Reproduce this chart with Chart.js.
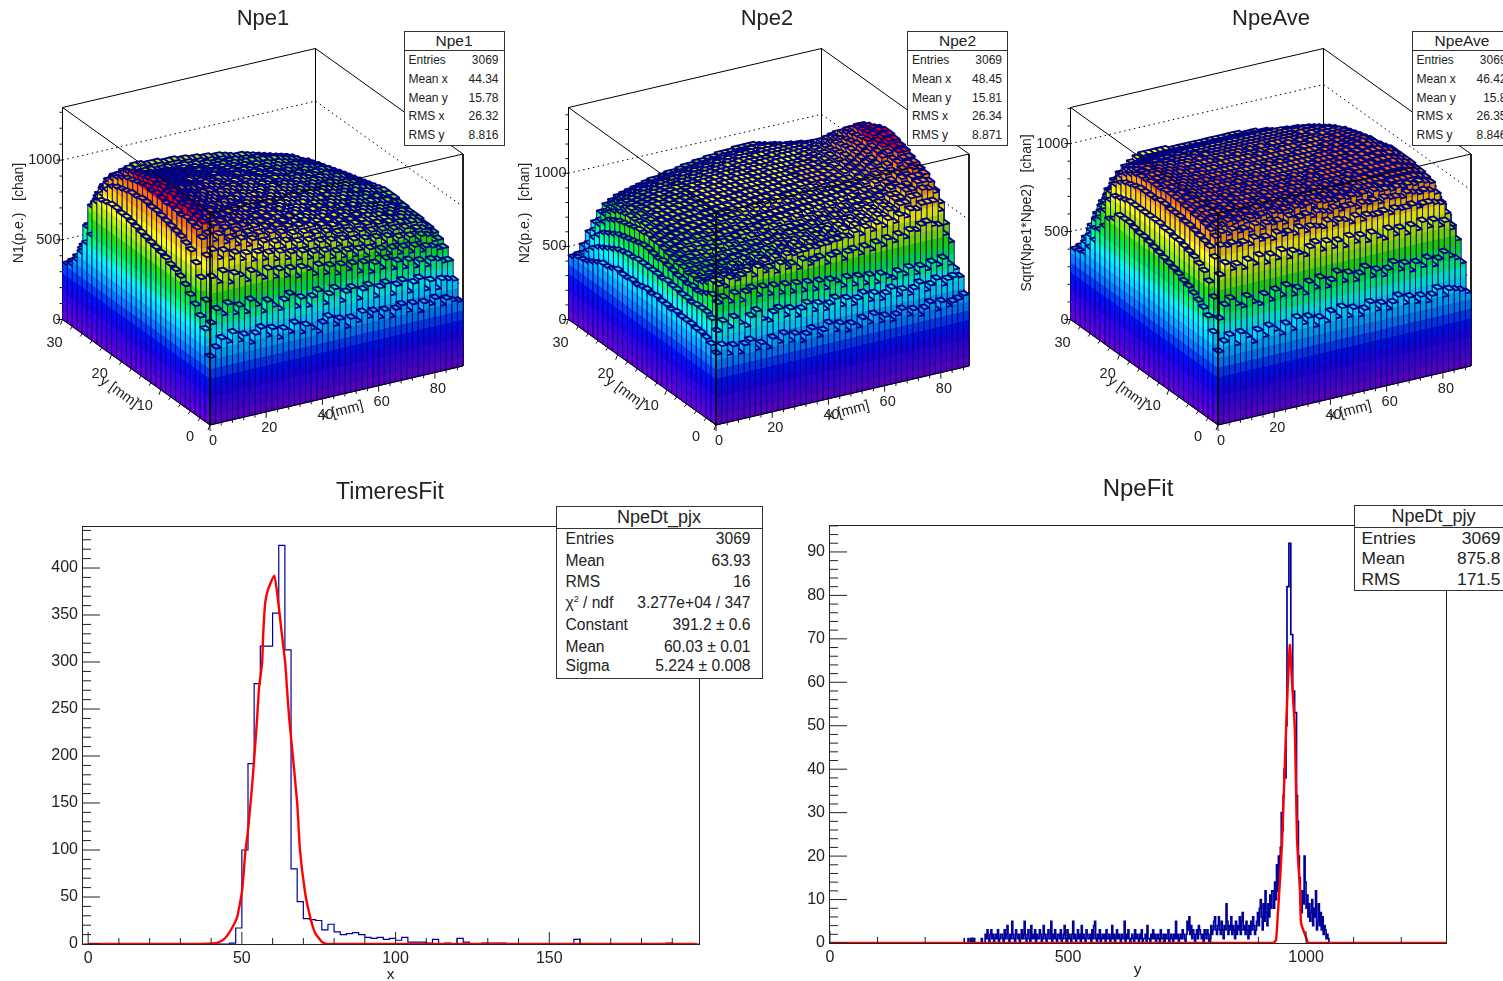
<!DOCTYPE html>
<html>
<head>
<meta charset="utf-8">
<title>Npe maps and fits</title>
<script src="https://cdn.jsdelivr.net/npm/chart.js@4/dist/chart.umd.js"></script>
<style>
  html, body { margin: 0; padding: 0; background: #fff; overflow: hidden; }
  #page { position: relative; width: 1503px; height: 981px; overflow: hidden; background: #fff; filter: blur(0.45px); font-family: "Liberation Sans", sans-serif; color: #222; }
  canvas { position: absolute; left: 0; top: 0; }
  .title { position: absolute; transform: translate(-50%, -50%); white-space: nowrap; }
  .stats { position: absolute; background: #fff; border: 1.5px solid #333; box-sizing: border-box; z-index: 5; }
  .stats .head { position: absolute; left: 0; right: 0; top: 0; border-bottom: 1.5px solid #333; text-align: center; }
  .stats .row { position: absolute; white-space: nowrap; transform: translateY(-50%); }
</style>
</head>
<body>
<div id="page"></div>
<script>
// lego heights, 10 chan units. rows go from y=0 (front) to y=30 (back), 45 bins of 2 mm in x, 30 bins of 1 mm in y
const H1 = [
[42,47,52,49,54,48,51,45,50,53,47,51,44,49,46,51,44,48,45,42,47,50,44,47,41,46,43,48,44,47,42,46,41,45,47,42,46,40,45,43,46,41,44,42,41],
[57,60,68,64,70,63,67,62,69,65,60,66,62,59,64,67,58,63,57,62,65,56,61,64,55,60,62,54,59,61,53,58,60,52,57,59,51,56,58,50,55,49,54,53,52],
[63,72,86,82,88,80,85,83,79,84,81,78,83,77,81,76,80,74,79,77,73,78,72,76,70,75,71,74,68,73,66,71,67,72,65,69,64,68,63,66,62,65,64,62,62],
[68,84,97,100,94,98,92,95,90,93,88,92,87,90,85,89,84,87,82,86,81,84,80,83,78,81,77,80,76,79,74,78,73,76,72,75,71,74,70,73,69,71,70,68,68],
[72,91,106,108,103,106,100,102,97,100,95,98,92,95,90,93,89,92,87,90,86,89,84,87,83,86,82,85,80,83,79,82,78,81,77,80,75,78,74,77,73,76,75,71,71],
[76,97,110,113,109,110,105,106,102,103,99,100,97,98,95,97,93,95,91,93,90,92,89,90,87,89,85,87,84,86,83,85,81,83,80,82,79,81,78,80,77,78,77,74,73],
[79,99,111,114,112,112,108,108,105,105,102,102,100,100,98,98,96,97,94,95,93,94,92,92,90,91,88,89,87,88,85,87,84,85,83,84,82,83,81,81,80,80,79,76,74],
[81,101,112,115,113,112,110,109,106,105,103,103,101,100,99,99,97,97,95,96,94,94,92,93,91,91,89,90,88,88,86,87,85,85,84,84,83,83,82,81,81,80,79,76,74],
[82,102,111,116,114,113,110,110,107,106,104,103,102,101,99,100,97,98,96,96,94,95,93,93,92,91,90,90,88,89,87,87,85,86,84,84,83,83,81,82,80,80,79,76,75],
[84,103,112,115,115,112,111,109,108,106,104,104,102,101,100,99,98,98,96,96,95,94,93,93,91,91,90,89,89,88,87,87,86,85,84,84,83,82,82,81,81,79,79,76,75],
[85,104,113,116,114,113,111,110,107,107,105,103,102,102,100,100,98,97,97,96,94,95,93,92,92,91,89,90,88,88,87,86,85,85,84,83,83,82,81,81,80,80,78,76,75],
[86,105,112,117,115,114,112,110,108,106,105,104,103,101,100,100,99,98,96,97,95,94,94,92,91,91,90,89,88,88,86,87,85,85,83,84,82,82,81,80,80,79,78,76,76],
[87,106,113,116,116,113,112,111,108,107,105,104,102,102,101,99,98,98,97,96,95,95,93,93,92,91,90,90,88,88,87,86,86,85,84,83,83,82,81,81,80,79,79,77,76],
[88,106,114,117,115,114,111,110,109,107,106,104,103,101,100,100,99,97,97,96,95,94,94,93,91,91,90,89,89,88,87,87,85,85,84,84,82,82,81,81,79,80,78,77,77],
[89,107,113,116,116,114,112,111,108,107,105,105,103,102,101,100,98,98,97,96,96,95,93,93,92,91,90,90,88,88,87,86,85,85,84,83,83,82,81,80,80,79,78,77,77],
[90,107,114,117,116,113,112,110,109,107,106,104,102,102,100,100,99,98,96,96,95,94,94,92,92,90,90,89,88,88,86,86,85,85,83,83,82,82,80,81,79,79,78,77,77],
[91,106,113,116,115,114,111,110,108,106,105,104,103,101,100,99,98,98,97,96,95,94,93,93,91,91,90,89,88,87,87,86,85,84,84,83,82,81,81,80,80,79,78,76,76],
[92,106,112,115,114,112,111,109,107,106,104,103,102,101,100,99,98,97,96,96,94,94,93,92,91,90,90,88,88,87,86,86,84,84,83,83,82,81,80,80,79,78,77,76,75],
[92,105,111,114,113,112,109,109,106,105,104,102,101,100,99,99,97,97,95,95,94,93,92,92,90,90,89,88,87,87,86,85,84,83,83,82,81,81,80,79,79,78,76,75,74],
[93,104,110,113,112,110,109,107,106,104,103,102,100,100,98,98,97,96,95,94,93,93,91,91,90,89,88,88,86,86,85,84,84,83,82,82,81,80,79,79,78,77,76,74,73],
[93,103,108,111,110,108,107,106,104,103,102,100,100,98,98,97,96,95,94,94,93,92,91,90,90,89,88,87,86,86,85,84,83,83,82,81,80,80,79,78,78,77,75,73,72],
[92,101,106,108,107,106,105,104,102,101,100,99,98,97,96,96,95,94,93,92,92,91,90,89,88,88,87,86,85,85,84,83,82,82,81,80,80,79,78,78,77,76,75,72,71],
[91,97,103,105,105,104,103,102,101,99,98,98,96,96,95,94,94,93,92,91,91,90,89,88,88,87,86,85,85,84,83,83,82,81,80,80,79,78,78,77,76,75,74,72,70],
[88,92,98,101,102,101,100,99,98,97,96,95,95,94,93,92,92,91,90,90,89,88,88,87,86,86,85,84,84,83,82,82,81,80,80,79,78,78,77,76,76,75,73,71,69],
[65,86,92,97,99,98,98,97,96,95,94,94,93,92,92,91,90,90,89,88,88,87,87,86,85,85,84,84,83,82,82,81,80,80,79,79,78,77,77,76,75,74,72,70,68],
[58,80,85,90,94,95,95,94,94,93,92,92,91,90,90,89,89,88,88,87,87,86,85,85,84,84,83,83,82,82,81,80,80,79,79,78,77,77,76,75,74,73,71,69,66],
[50,65,72,82,88,90,91,91,91,90,90,89,89,88,88,88,87,87,86,86,85,85,84,84,83,83,82,82,81,81,80,80,79,79,78,78,77,76,75,74,73,72,70,67,64],
[43,49,54,74,81,85,87,88,88,88,88,87,87,87,86,86,86,85,85,85,84,84,83,83,82,82,82,81,81,80,80,80,79,79,78,78,77,76,75,74,72,71,68,65,62],
[38,42,46,60,70,78,81,84,85,85,86,86,86,86,86,85,85,85,84,84,84,83,83,82,82,81,81,80,80,80,79,79,78,78,77,76,75,75,74,72,71,69,66,63,60],
[36,37,38,45,50,70,75,79,82,84,86,87,88,88,87,87,87,86,86,86,85,85,84,84,83,83,82,82,81,80,79,79,78,77,76,75,74,73,72,71,70,67,64,61,58]
];
const H2 = [
[48,53,46,51,45,50,52,45,48,44,50,46,51,45,49,43,47,50,44,47,51,45,49,43,47,44,49,45,50,44,47,43,46,49,44,47,42,46,49,43,48,44,46,47,49],
[52,60,66,61,67,62,59,65,68,61,59,64,66,60,64,58,62,65,59,63,58,61,64,58,62,57,60,63,57,61,56,59,62,56,59,55,58,61,55,58,61,56,59,60,59],
[54,66,76,79,75,80,74,79,81,75,80,74,79,73,78,72,77,71,76,70,75,69,74,72,68,73,67,72,66,71,65,70,67,65,69,66,70,65,69,66,70,67,71,66,62],
[55,68,79,85,83,88,86,88,90,86,91,87,89,85,90,86,88,84,89,85,87,88,83,87,88,83,87,88,84,88,85,89,86,90,87,91,88,92,91,94,95,92,91,84,78],
[55,68,77,85,85,87,86,87,87,89,88,89,91,89,92,89,92,91,92,92,93,92,93,93,94,94,95,94,97,94,98,95,99,96,100,97,101,99,103,102,105,105,105,98,88],
[56,68,75,81,81,84,82,85,83,86,84,87,86,88,87,89,88,91,89,92,90,93,92,94,93,95,94,97,95,98,96,99,98,101,100,103,102,105,105,108,108,112,111,108,100],
[56,67,74,79,80,82,80,83,81,84,83,86,84,87,86,89,87,90,89,92,90,93,92,94,93,96,94,97,95,98,97,99,98,101,100,103,102,106,106,110,110,114,114,113,106],
[56,68,75,78,79,81,80,82,81,84,83,86,84,87,86,89,88,91,90,91,91,93,92,94,94,95,95,97,96,97,97,99,98,101,100,103,102,106,106,110,111,115,115,116,109],
[57,68,74,79,78,81,81,81,83,83,85,85,86,86,88,88,90,90,92,91,93,93,94,94,96,95,97,96,98,97,99,98,100,100,102,102,104,105,108,109,113,114,118,117,112],
[56,69,75,78,80,80,82,82,84,84,86,86,87,87,89,89,91,91,93,92,94,94,95,95,97,96,98,97,99,98,100,99,101,101,103,103,105,106,109,110,114,116,119,119,114],
[57,69,75,80,80,82,82,84,83,86,85,88,87,89,88,91,90,92,91,94,93,96,94,97,95,98,96,99,97,100,98,101,99,102,101,104,104,108,108,112,113,118,120,120,115],
[57,70,76,80,82,83,84,84,86,86,88,88,89,90,91,91,92,93,94,94,95,96,96,97,97,98,98,99,99,100,100,101,101,102,103,104,106,108,110,112,115,118,122,122,117],
[58,69,77,81,83,85,85,87,87,89,89,90,91,91,92,93,94,94,95,96,96,97,97,98,98,99,99,99,100,100,101,101,102,103,104,105,107,109,112,114,118,120,123,123,119],
[57,70,78,82,84,85,87,87,89,89,91,90,92,92,94,93,95,94,96,95,97,96,98,97,99,98,100,99,101,100,102,101,103,103,105,105,108,110,113,115,119,122,125,125,120],
[58,70,77,83,85,86,88,88,90,90,91,92,92,94,94,95,95,97,96,98,97,99,98,100,99,100,100,101,100,102,101,103,102,104,105,107,109,111,114,117,120,123,126,126,121],
[57,70,78,84,85,87,88,89,90,91,92,92,93,94,95,95,96,97,97,98,98,99,99,100,100,101,101,101,102,102,103,103,103,104,105,107,110,112,115,118,122,125,127,126,120],
[56,70,79,84,86,88,89,90,91,92,92,93,94,94,95,96,96,97,98,98,99,99,100,100,101,101,102,102,102,103,103,103,103,104,105,107,109,112,115,118,121,124,126,125,119],
[57,70,79,85,87,88,90,90,92,92,93,93,95,95,96,96,97,97,98,98,99,99,100,100,101,101,102,102,102,102,103,103,103,104,105,106,108,111,114,117,120,123,125,123,116],
[56,69,78,84,87,89,90,91,92,93,93,94,95,95,96,96,97,98,98,99,99,100,100,100,101,101,102,102,102,103,103,103,103,104,104,106,108,110,113,116,119,122,123,120,112],
[56,69,77,84,87,89,91,91,92,93,94,94,95,96,96,97,97,98,98,99,99,100,100,100,101,101,102,102,102,102,102,103,103,103,104,105,107,109,112,114,117,119,120,116,107],
[57,68,76,83,86,88,90,91,92,93,93,94,95,95,96,97,97,98,98,99,99,100,100,100,101,101,101,102,102,102,102,102,102,103,103,104,106,108,110,112,115,116,116,110,100],
[55,67,75,82,85,88,90,91,92,92,93,94,94,95,96,96,97,97,98,98,99,99,100,100,100,101,101,101,101,102,102,102,102,102,103,103,105,106,108,110,112,112,110,104,94],
[54,65,74,81,85,87,89,90,91,92,92,93,94,94,95,96,96,97,97,98,98,99,99,99,100,100,100,101,101,101,101,102,102,102,102,102,103,104,106,107,108,107,104,98,88],
[54,63,72,80,84,87,88,89,90,91,92,92,93,94,94,95,95,96,96,97,97,98,98,98,99,99,100,100,100,100,101,101,101,101,101,101,102,102,103,103,103,101,97,91,82],
[52,61,70,78,83,85,87,88,89,90,91,91,92,92,93,94,94,95,95,96,96,97,97,98,98,99,99,99,100,100,100,100,100,100,100,100,100,100,100,99,98,95,90,84,74],
[50,59,68,76,81,84,86,87,88,89,89,90,91,91,92,92,93,93,94,94,95,95,96,96,97,97,98,98,98,98,99,99,99,99,99,98,98,98,97,95,93,90,84,77,68],
[48,56,64,72,78,81,83,85,86,87,88,88,89,90,90,91,91,92,92,93,93,94,94,95,95,96,96,97,97,97,97,98,98,97,97,96,96,95,94,92,89,85,79,72,62],
[47,52,60,68,74,78,81,83,84,85,86,86,87,87,88,89,89,90,90,91,91,92,92,93,93,94,94,95,95,95,96,96,96,95,95,94,93,92,90,88,85,80,74,66,57],
[46,48,54,62,68,73,77,79,81,82,83,84,84,85,85,86,87,87,88,88,89,89,90,90,91,91,92,92,92,93,93,93,93,93,92,91,90,89,86,84,80,75,68,61,52],
[44,45,50,58,64,70,74,76,78,79,80,81,82,83,84,84,85,86,86,87,88,88,89,89,90,90,91,91,91,92,92,92,92,91,90,89,88,86,83,80,76,70,62,55,48]
];
const H3 = [
[41,46,49,43,49,46,42,48,44,49,46,43,48,44,50,46,49,43,47,44,49,45,50,44,48,43,46,49,44,47,43,46,49,44,47,43,46,42,45,48,43,46,45,44,42],
[50,57,64,67,63,61,66,62,60,65,61,66,62,67,61,64,60,66,62,67,61,64,68,62,66,61,64,67,61,64,60,63,66,61,64,59,63,60,64,59,62,65,62,60,57],
[57,67,79,85,81,83,80,84,81,85,80,84,81,85,80,83,81,79,83,85,80,84,80,83,79,84,80,83,79,83,80,78,83,79,82,78,82,79,83,79,82,78,80,75,68],
[60,74,87,93,92,93,91,92,90,93,91,92,90,93,91,92,90,93,90,92,91,90,93,90,92,91,89,92,89,91,90,90,91,89,91,90,90,91,89,90,90,89,88,82,74],
[62,78,91,96,98,96,98,96,97,95,98,95,97,96,97,95,98,95,96,97,95,97,96,95,97,95,96,96,94,96,95,96,94,96,95,95,94,96,95,94,95,94,92,86,78],
[64,80,92,98,100,99,101,99,100,98,100,99,100,98,100,99,100,98,100,99,100,98,100,99,99,98,99,98,99,98,99,97,99,98,98,97,98,97,98,97,98,97,96,89,82],
[66,82,93,99,101,101,102,100,101,100,101,100,102,100,101,99,101,100,101,99,101,100,100,99,100,99,100,99,100,98,100,99,99,98,99,98,99,99,99,99,99,98,97,91,84],
[67,83,94,100,102,102,102,101,102,100,102,101,101,100,102,100,101,100,101,100,101,100,100,100,100,99,100,99,99,99,100,99,99,99,99,99,100,100,100,100,100,99,98,92,86],
[69,84,95,100,102,102,103,101,102,101,102,101,101,100,101,100,101,100,100,100,101,100,100,99,100,99,100,99,100,98,100,99,99,99,100,100,100,101,101,101,100,99,98,93,87],
[70,85,95,101,103,103,102,102,102,101,102,101,101,101,101,100,101,100,100,100,100,100,100,99,100,99,99,99,99,99,99,100,99,100,100,101,101,101,101,102,101,100,99,94,88],
[71,85,96,101,103,103,103,102,102,101,102,100,101,100,101,100,100,100,100,99,100,99,100,99,99,99,99,98,99,99,99,99,99,100,100,101,101,102,102,102,101,100,99,94,88],
[72,86,96,102,103,104,103,102,102,101,101,101,101,100,100,100,100,99,100,99,99,99,99,99,99,98,99,98,99,99,99,99,100,100,101,101,102,102,103,102,102,101,99,94,88],
[73,86,96,102,104,103,103,102,102,101,101,100,100,100,100,99,100,99,99,99,99,99,99,98,99,98,98,99,98,99,99,99,100,100,101,101,102,103,103,103,102,101,99,94,88],
[74,87,97,102,103,104,103,102,101,101,101,100,100,100,99,100,99,99,99,99,98,99,98,98,98,98,98,98,98,99,99,99,99,100,100,101,102,103,104,103,102,100,99,94,88],
[75,87,97,102,103,103,103,102,101,101,100,100,100,99,99,99,99,99,98,99,98,98,98,98,98,98,98,98,98,98,99,99,99,100,100,101,102,103,104,103,102,100,98,93,88],
[76,87,96,101,103,103,102,102,101,100,100,100,99,99,99,99,98,99,98,98,98,98,98,98,98,98,98,98,98,98,98,99,99,99,100,100,101,102,103,103,101,99,97,93,87],
[76,87,96,101,102,103,102,101,101,100,100,99,99,99,99,98,98,98,98,98,98,98,97,98,97,98,97,98,98,98,98,98,98,99,99,100,100,101,102,102,100,99,96,92,86],
[77,87,96,101,102,102,102,101,100,100,99,99,99,98,98,98,98,98,98,97,98,97,97,97,97,97,97,97,97,98,98,98,98,98,99,99,100,100,101,101,100,98,96,91,85],
[78,87,96,100,102,102,101,101,100,100,99,99,98,98,98,98,97,97,97,97,97,97,97,97,97,97,97,97,97,97,97,98,98,98,98,99,99,100,100,100,99,97,95,90,84],
[78,87,95,100,101,101,101,100,100,99,99,98,98,98,97,97,97,97,97,97,97,97,97,96,97,96,97,96,97,97,97,97,97,98,98,98,98,99,99,99,98,96,94,89,83],
[78,86,94,99,100,101,100,100,99,99,98,98,98,97,97,97,97,96,97,96,96,97,96,96,96,96,96,96,96,96,97,96,97,97,97,97,98,98,98,98,97,95,93,88,82],
[74,85,93,97,99,100,100,99,99,98,98,97,97,97,96,97,96,96,96,96,96,96,96,95,96,95,96,95,96,96,96,96,96,96,96,97,97,97,97,96,95,94,91,86,80],
[72,84,91,95,97,98,98,98,97,97,97,96,96,96,96,96,95,96,95,95,95,95,95,95,95,95,95,95,95,95,95,95,95,95,96,96,96,96,95,95,94,92,89,84,78],
[66,80,88,92,95,96,96,96,96,96,95,95,95,95,95,94,95,94,94,94,94,94,94,94,94,94,94,94,94,94,94,94,94,94,95,95,95,94,94,93,92,90,87,82,75],
[62,72,82,87,91,93,94,94,94,94,94,94,94,93,94,93,93,93,93,93,93,93,93,93,93,93,93,93,93,93,93,93,93,93,93,93,93,92,92,91,90,88,84,78,71],
[54,66,73,79,84,88,90,91,92,92,92,92,92,92,92,92,92,92,92,92,92,92,92,92,92,92,92,92,92,92,92,92,92,92,91,91,91,90,90,89,88,85,81,74,66],
[48,58,67,73,78,82,85,87,88,89,90,90,90,90,90,90,90,90,90,90,90,90,90,90,90,90,90,90,90,90,90,90,90,89,89,89,88,88,87,86,84,81,76,69,60],
[43,52,60,67,72,76,80,83,85,86,87,87,88,88,88,88,88,88,88,88,88,88,88,88,88,88,88,88,88,88,88,87,87,87,86,86,85,84,83,82,80,76,70,63,54],
[42,46,52,58,64,70,75,78,80,82,84,85,86,86,86,86,86,86,86,86,86,86,86,86,86,86,86,86,86,86,85,85,85,85,84,83,82,81,80,78,75,71,65,58,49],
[41,42,46,52,58,64,70,75,78,81,83,85,86,86,86,86,86,85,85,85,85,85,85,85,85,85,85,85,85,85,84,84,84,83,83,82,81,80,79,77,73,68,61,54,46]
];
const xBinMm = 2, yBinMm = 1;
const xRangeMm = 90, yRangeMm = 30;
const xTicks3d = [0, 20, 40, 60, 80];
const yTicks3d = [0, 10, 20, 30];
const zTicks3d = [0, 500, 1000];

// TimeresFit: 2 unit bins starting at x=0
const timeres = [
0,0,0,0,0,0,0,0,0,0,0,0,0,0,0,0,0,0,0,0,0,0,0,1,17,100,192,277,317,317,352,424,313,80,45,27,26,25,15,21,
13,10,11,12,10,7,6,7,5,6,4,7,2,2,2,1,5,0,1,0,6,2,0,0,1,1,1,1,0,0,0,0,0,0,0,0,0,0,0,5,
0,0,0,0,0,0,0,0,0,0,0,0,0,0,1,0,0,0,0,0
];
const timeresFitX = [0,36.4,40.7,42.3,44.6,46.8,48.5,50.1,51.1,52,53.3,54.3,55,55.6,56.6,56.9,57.6,58.5,60.5,61.5,63.1,64.1,64.7,65.4,66.7,68,68.9,70.6,72.2,73.8,76.1,78,198];
const timeresFitY = [0,0,0.5,1.4,6.4,17,29,57,97,121,167,210,242,273,299,327,363,377,392,373,327,299,271,240,196,150,100,54,29,12,2,0,0];
const timeresXTicks = [0, 50, 100, 150];
const timeresYTicks = [0, 50, 100, 150, 200, 250, 300, 350, 400];

// NpeFit: 2 unit bins starting at y=280
const npeFirstBin = 280;
const npe = [
1,0,0,0,0,1,0,0,1,0,0,1,0,0,0,0,0,0,0,1,0,0,0,
2,1,3,1,0,2,3,1,2,0,1,2,1,3,0,1,2,2,1,0,
3,1,2,4,1,0,2,1,5,2,1,0,3,2,1,2,0,1,3,1,
2,5,1,0,2,3,1,0,4,1,2,1,3,0,2,1,1,3,2,0,
1,4,2,1,0,2,3,1,1,5,0,2,1,3,1,0,2,2,1,3,
0,1,2,4,1,0,3,1,2,1,0,2,5,1,2,0,1,3,1,2,
0,4,1,2,1,0,3,2,1,1,2,0,3,1,4,5,1,0,2,1,
3,0,1,2,1,2,0,3,1,1,2,0,1,4,1,2,0,1,3,1,
2,1,0,2,1,1,5,0,2,1,3,1,0,1,2,1,0,3,1,2,
1,0,2,1,3,0,1,1,2,0,4,1,1,0,2,1,3,1,2,0,
1,2,1,0,3,1,1,2,0,2,1,1,3,0,1,2,1,0,2,1,
5,1,2,0,1,
2,1,3,2,1,0,2,5,3,6,2,4,1,3,2,0,2,3,1,4,
3,2,1,2,0,3,2,1,3,2,0,1,4,2,3,5,6,3,2,4,
6,3,2,5,3,1,4,3,9,5,2,4,3,6,2,4,3,1,5,2,
4,3,6,2,5,7,3,4,2,5,3,1,4,2,5,3,6,4,2,3,
5,7,4,8,10,6,3,9,5,12,7,4,9,6,11,8,12,
12,8,14,10,18,12,20,15,22,30,26,34,40,38,50,82,82,92,92,71,71,58,58,53,53,34,28,20,15,9,
7,12,9,20,14,8,11,6,9,5,7,10,4,8,6,12,3,5,9,4,7,3,6,2,4,3,1,2,1,0
];
const npeFitX = [0,930.7,937,941,945,950,958,960,966,970.6,976.6,981,987.6,989.5,1002,1004,1294];
const npeFitY = [0,0,0.7,7,14,24,49,55,68.6,60,49,24,11.5,4.6,0.7,0,0];
const npeXTicks = [0, 500, 1000];
const npeYTicks = [0, 10, 20, 30, 40, 50, 60, 70, 80, 90];

const palette = ['#6a00d8','#5000e0','#3a00ee','#1a00f5','#0010ff','#0040ff','#0080ff','#00b0ff','#00e0ff','#00ffe0',
                 '#00ff80','#00f040','#20e800','#80f000','#c0f000','#ffff00','#ffd000','#ffa000','#ff7000','#ff0000'];
const NAVY = '#000080';

const page = document.getElementById('page');

function addCanvas() {
  const c = document.createElement('canvas');
  c.width = 1503; c.height = 1000;
  c.style.width = '1503px'; c.style.height = '1000px';
  page.appendChild(c);
  return c;
}

function addTitle(text, x, y, size) {
  const d = document.createElement('div');
  d.className = 'title';
  d.style.left = x + 'px'; d.style.top = y + 'px'; d.style.fontSize = size + 'px';
  d.textContent = text;
  page.appendChild(d);
}

function addStats(box, title, rows) {
  const d = document.createElement('div');
  d.className = 'stats';
  d.style.cssText = `left:${box.left}px;top:${box.top}px;width:${box.w}px;height:${box.h}px`;
  const head = document.createElement('div');
  head.className = 'head';
  head.style.cssText = `height:${box.head}px;line-height:${box.head}px;font-size:${box.titleSize}px`;
  head.textContent = title;
  d.appendChild(head);
  rows.forEach((r, i) => {
    const y = box.rowY[i] - box.top - 1.5;
    const l = document.createElement('div');
    l.className = 'row';
    l.style.cssText = `left:${box.padL}px;top:${y}px;font-size:${box.size}px`;
    l.innerHTML = r[0];
    const v = document.createElement('div');
    v.className = 'row';
    v.style.cssText = `right:${box.padR}px;top:${y}px;font-size:${box.size}px`;
    v.textContent = r[1];
    d.appendChild(l); d.appendChild(v);
  });
  page.appendChild(d);
}

function shade(hex, f) {
  const n = parseInt(hex.slice(1), 16);
  return `rgb(${((n >> 16) & 255) * f | 0},${((n >> 8) & 255) * f | 0},${(n & 255) * f | 0})`;
}
const paletteDark = palette.map(c => shade(c, 0.86));

// the three lego panels: pixel-like projected scale, heights go through chart.scales
function legoChart(cfg) {
  const H = cfg.heights;
  const project = (xv, yv, z) => ({
    x: cfg.ox + xv * 253 / xRangeMm - yv * 147.5 / yRangeMm,
    y: 425 - xv * 59 / xRangeMm - yv * 105.5 / yRangeMm - z * 212 / cfg.zTop
  });
  const line = pts => pts.map(p => project(p[0], p[1], p[2]));
  const X = xRangeMm, Y = yRangeMm, T = cfg.zTop;

  const cells = [];
  H.forEach((row, j) => row.forEach((h, i) => {
    cells.push(project((i + 0.5) * xBinMm, (j + 0.5) * yBinMm, h * 10));
  }));

  const frame = (data, order, extra) => Object.assign({ type: 'scatter', data, showLine: true, pointRadius: 0, borderColor: '#000', borderWidth: 1, fill: false, order }, extra);
  const datasets = [
    frame(line([[0,Y,0],[0,Y,T],[X,Y,T],[X,0,T],[X,0,0]]), 5),
    frame(line([[X,Y,T],[X,Y,0]]), 5),
    { label: 'heights', data: cells, showLine: false, pointRadius: 0, order: 3 },
    frame(line([[0,Y,T],[0,0,T],[X,0,T]]), 1),
    frame(line([[0,0,T],[0,0,0]]), 1),
    frame(line([[0,Y,0],[0,0,0],[X,0,0]]), 1)
  ];
  zTicks3d.slice(1).forEach(z => {
    datasets.push(frame(line([[0,Y,z],[X,Y,z],[X,0,z]]), 5, { borderDash: [1.5, 3.5] }));
  });

  const legoPlugin = {
    id: 'lego',
    afterDatasetDraw(chart, args) {
      if (chart.data.datasets[args.index].label !== 'heights') return;
      const c = chart.ctx, sx = chart.scales.x, sy = chart.scales.y;
      const step = cfg.zPal / palette.length;
      const pt = (xv, yv, z) => {
        const p = project(xv, yv, z);
        return [sx.getPixelForValue(p.x), sy.getPixelForValue(p.y)];
      };
      const path = pts => {
        c.beginPath();
        pts.forEach((p, k) => k ? c.lineTo(p[0], p[1]) : c.moveTo(p[0], p[1]));
        c.closePath();
      };
      const level = z => Math.min(palette.length - 1, Math.floor(z / step));
      const side = (x0, y0, x1, y1, lo, hi, colors) => {
        if (hi <= lo) return;
        for (let k = level(lo); k <= level(hi); k++) {
          const a = Math.max(lo, k * step - 4), b = Math.min(hi, (k + 1) * step);
          if (b <= a) continue;
          path([pt(x0, y0, a), pt(x1, y1, a), pt(x1, y1, b), pt(x0, y0, b)]);
          c.fillStyle = colors[k];
          c.fill();
        }
        path([pt(x0, y0, lo), pt(x1, y1, lo), pt(x1, y1, hi), pt(x0, y0, hi)]);
        c.strokeStyle = NAVY;
        c.lineWidth = 0.9;
        c.stroke();
      };
      c.save();
      c.lineJoin = 'round';
      for (let j = H.length - 1; j >= 0; j--) {
        for (let i = H[j].length - 1; i >= 0; i--) {
          const h = H[j][i] * 10;
          const x0 = i * xBinMm, x1 = x0 + xBinMm, y0 = j * yBinMm, y1 = y0 + yBinMm;
          const left = i ? H[j][i - 1] * 10 : 0;
          const front = j ? H[j - 1][i] * 10 : 0;
          side(x0, y0, x0, y1, left, h, palette);
          side(x0, y0, x1, y0, front, h, paletteDark);
          path([pt(x0, y0, h), pt(x1, y0, h), pt(x1, y1, h), pt(x0, y1, h)]);
          c.fillStyle = palette[level(h)];
          c.fill();
          c.strokeStyle = NAVY;
          c.lineWidth = 1.9;
          c.stroke();
        }
      }
      c.restore();
    },
    afterDraw(chart) {
      const c = chart.ctx, sx = chart.scales.x, sy = chart.scales.y;
      const pt = (xv, yv, z) => {
        const p = project(xv, yv, z);
        return [sx.getPixelForValue(p.x), sy.getPixelForValue(p.y)];
      };
      c.save();
      c.strokeStyle = '#111';
      c.lineWidth = 1;
      const tick = (p, dx, dy) => { c.beginPath(); c.moveTo(p[0], p[1]); c.lineTo(p[0] + dx, p[1] + dy); c.stroke(); };
      for (let v = 0; v <= X; v += 4) tick(pt(v, 0, 0), 0, v % 20 === 0 ? 6 : 3);
      for (let v = 0; v <= Y; v += 2) tick(pt(0, v, 0), -2, v % 10 === 0 ? 5 : 3);
      for (let v = 0; v <= T; v += 100) tick(pt(0, Y, v), v % 500 === 0 ? -6 : -3, 0);

      c.fillStyle = '#222';
      c.font = '14.5px "Liberation Sans"';
      c.textBaseline = 'middle';
      c.textAlign = 'center';
      xTicks3d.forEach(v => {
        const p = pt(v, 0, 0);
        c.fillText(v, p[0] + 3, p[1] + 16);
      });
      yTicks3d.forEach(v => {
        const p = pt(0, v, 0);
        c.fillText(v, p[0] - 20 + v * 0.4, p[1] + 12 + v * 0.37);
      });
      c.textAlign = 'right';
      zTicks3d.forEach(v => {
        const p = pt(0, Y, v);
        c.fillText(v, p[0] - 2, p[1]);
      });
      c.textAlign = 'center';
      const rotated = (text, x, y, deg) => {
        c.save();
        c.translate(x, y);
        c.rotate(deg * Math.PI / 180);
        c.fillText(text, 0, 0);
        c.restore();
      };
      rotated('x [mm]', cfg.ox + 132, 411, -15);
      rotated('y [mm]', cfg.ox - 91, 392, 36);
      c.font = '14px "Liberation Sans"';
      rotated(cfg.zTitle, cfg.ox - 191, 213, -90);
      c.restore();
    }
  };

  new Chart(addCanvas().getContext('2d'), {
    type: 'scatter',
    data: { datasets },
    options: {
      responsive: false,
      animation: false,
      layout: { padding: 0 },
      plugins: { legend: { display: false }, tooltip: { enabled: false } },
      scales: {
        x: { type: 'linear', display: false, min: 0, max: 1503 },
        y: { type: 'linear', display: false, min: 0, max: 1000, reverse: true }
      }
    },
    plugins: [legoPlugin]
  });
}

// the two 1d histograms, ticks are inside the frame like ROOT draws them
function histChart(cfg) {
  const histData = cfg.values.map((v, i) => ({ x: cfg.firstBin + (i + 0.5) * cfg.binW, y: v }));
  const fitData = cfg.fitX.map((x, i) => ({ x, y: cfg.fitY[i] }));
  const ticksPlugin = {
    id: 'rootTicks',
    afterDraw(chart) {
      const c = chart.ctx, a = chart.chartArea, sx = chart.scales.x, sy = chart.scales.y;
      c.save();
      c.strokeStyle = '#222';
      c.lineWidth = 1;
      c.strokeRect(a.left + 0.5, a.top + 0.5, a.right - a.left, a.bottom - a.top);
      for (let v = 0; v <= cfg.xMax; v += cfg.xMinor) {
        const px = sx.getPixelForValue(v);
        c.beginPath();
        c.moveTo(px, a.bottom);
        c.lineTo(px, a.bottom - (v % cfg.xMajor === 0 ? 12 : 6));
        c.stroke();
      }
      for (let v = 0; v <= cfg.yMax; v += cfg.yMinor) {
        const py = sy.getPixelForValue(v);
        c.beginPath();
        c.moveTo(a.left, py);
        c.lineTo(a.left + (v % cfg.yMajor === 0 ? 18 : 9), py);
        c.stroke();
      }
      c.restore();
    }
  };
  new Chart(addCanvas().getContext('2d'), {
    type: 'scatter',
    data: {
      datasets: [
        { label: 'hist', data: histData, showLine: true, stepped: 'middle', pointRadius: 0, borderColor: '#00009a', borderWidth: cfg.histWidth, order: 2 },
        { label: 'fit', data: fitData, showLine: true, pointRadius: 0, borderColor: '#ff0000', borderWidth: 2.4, tension: 0.15, order: 1 }
      ]
    },
    options: {
      responsive: false,
      animation: false,
      layout: { padding: { top: cfg.area.top, right: 1503 - cfg.area.right, left: 0, bottom: 0 } },
      plugins: { legend: { display: false }, tooltip: { enabled: false } },
      scales: {
        x: {
          type: 'linear', min: cfg.xMin, max: cfg.xMax,
          grid: { display: false, drawTicks: false }, border: { display: false },
          afterFit: s => { s.height = 1000 - cfg.area.bottom; },
          afterBuildTicks: s => { s.ticks = cfg.xTicks.map(value => ({ value })); },
          ticks: { autoSkip: false, maxRotation: 0, padding: 5, color: '#222', font: { family: 'Liberation Sans', size: cfg.tickSize }, callback: v => String(v) },
          title: { display: true, text: cfg.xTitle, color: '#222', font: { family: 'Liberation Sans', size: 15.5 }, padding: { top: 0, bottom: cfg.xTitlePad } }
        },
        y: {
          type: 'linear', min: 0, max: cfg.yMax,
          grid: { display: false, drawTicks: false }, border: { display: false },
          afterFit: s => { s.width = cfg.area.left; },
          afterBuildTicks: s => { s.ticks = cfg.yTicks.map(value => ({ value })); },
          ticks: { autoSkip: false, padding: 4, color: '#222', font: { family: 'Liberation Sans', size: cfg.tickSize }, callback: v => String(v) }
        }
      }
    },
    plugins: [ticksPlugin]
  });
}

legoChart({ heights: H1, ox: 210, zTop: 1330, zPal: 1180, zTitle: 'N1(p.e.)   [chan]' });
legoChart({ heights: H2, ox: 716, zTop: 1450, zPal: 1280, zTitle: 'N2(p.e.)   [chan]' });
legoChart({ heights: H3, ox: 1218, zTop: 1205, zPal: 1100, zTitle: 'Sqrt(Npe1*Npe2)   [chan]' });

histChart({
  values: timeres, firstBin: 0, binW: 2, fitX: timeresFitX, fitY: timeresFitY, histWidth: 1.2,
  area: { left: 82, right: 699, top: 526, bottom: 944 },
  xMin: -2, xMax: 198.7, yMax: 444.7, xMinor: 10, xMajor: 50, yMinor: 10, yMajor: 50,
  xTicks: timeresXTicks, yTicks: timeresYTicks, xTitle: 'x', xTitlePad: 16, tickSize: 16
});
histChart({
  values: npe, firstBin: npeFirstBin, binW: 2, fitX: npeFitX, fitY: npeFitY, histWidth: 1.7,
  area: { left: 829, right: 1446, top: 525, bottom: 943 },
  xMin: -2, xMax: 1294, yMax: 96.2, xMinor: 100, xMajor: 500, yMinor: 2, yMajor: 10,
  xTicks: npeXTicks, yTicks: npeYTicks, xTitle: 'y', xTitlePad: 21, tickSize: 16
});

addTitle('Npe1', 263, 18, 22);
addTitle('Npe2', 767, 18, 22);
addTitle('NpeAve', 1271, 18, 22);
addTitle('TimeresFit', 390, 491, 23);
addTitle('NpeFit', 1138, 488, 24);

const legoRowY = [60, 79, 98, 116, 135];
const legoBox = left => ({ left, top: 31, w: 101, h: 115, head: 18, titleSize: 15.5, size: 12, padL: 4, padR: 5, rowY: legoRowY });
addStats(legoBox(403.5), 'Npe1', [['Entries','3069'],['Mean x','44.34'],['Mean y','15.78'],['RMS x','26.32'],['RMS y','8.816']]);
addStats(legoBox(907), 'Npe2', [['Entries','3069'],['Mean x','48.45'],['Mean y','15.81'],['RMS x','26.34'],['RMS y','8.871']]);
addStats(legoBox(1411.5), 'NpeAve', [['Entries','3069'],['Mean x','46.42'],['Mean y','15.8'],['RMS x','26.35'],['RMS y','8.846']]);

addStats({ left: 555.5, top: 506, w: 207, h: 173, head: 21, titleSize: 18, size: 15.6, padL: 9, padR: 11, rowY: [539, 561, 582, 603, 625, 647, 666] },
  'NpeDt_pjx', [['Entries','3069'],['Mean','63.93'],['RMS','16'],['χ<sup style="font-size:9px;line-height:0">2</sup> / ndf','3.277e+04 / 347'],['Constant','391.2 ± 0.6'],['Mean','60.03 ± 0.01'],['Sigma','5.224 ± 0.008']]);
addStats({ left: 1353.5, top: 505, w: 160, h: 86, head: 21, titleSize: 18, size: 17.4, padL: 7, padR: 12, rowY: [538, 558, 579] },
  'NpeDt_pjy', [['Entries','3069'],['Mean','875.8'],['RMS','171.5']]);
</script>
</body>
</html>
